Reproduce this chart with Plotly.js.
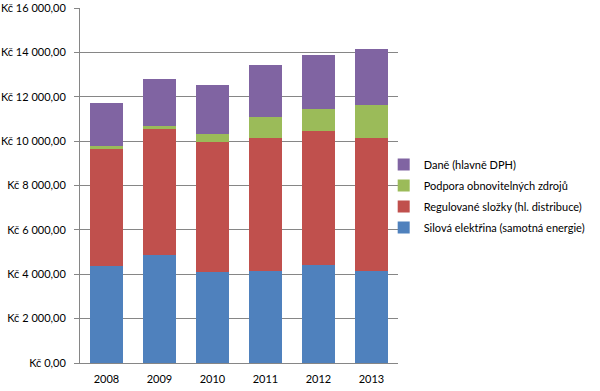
<!DOCTYPE html>
<html>
<head>
<meta charset="utf-8">
<script src="https://cdn.plot.ly/plotly-3.0.1.min.js"></script>
<style>html,body{margin:0;padding:0;background:#fff;}#chart{width:600px;height:391px;}</style>
</head>
<body>
<div id="chart"></div>
<script>
const years = ["2008", "2009", "2010", "2011", "2012", "2013"];
const silova = [4360, 4890, 4110, 4140, 4420, 4150];
const regulovane = [5300, 5660, 5840, 6020, 6020, 6010];
const podpora = [100, 120, 390, 910, 1020, 1470];
const dane = [1960, 2130, 2190, 2340, 2420, 2520];
const seriesNames = [
  "Silová elektřina (samotná energie)",
  "Regulované složky (hl. distribuce)",
  "Podpora obnovitelných zdrojů",
  "Daně (hlavně DPH)"
];
const seriesColors = ["#4F81BD", "#C0504D", "#9BBB59", "#8064A2"];
const yTickVals = [0, 2000, 4000, 6000, 8000, 10000, 12000, 14000, 16000];
const yTickText = ["Kč 0,00", "Kč 2 000,00", "Kč 4 000,00", "Kč 6 000,00", "Kč 8 000,00",
                   "Kč 10 000,00", "Kč 12 000,00", "Kč 14 000,00", "Kč 16 000,00"];

const seriesValues = [silova, regulovane, podpora, dane];
const traces = seriesValues.map((vals, i) => ({
  type: "bar",
  x: years,
  y: vals,
  name: seriesNames[i],
  legendgroup: "g" + i,
  legendrank: 10 * (seriesValues.length - i),
  marker: {color: seriesColors[i], line: {width: 0}},
  hoverinfo: "none"
}));

const layout = {
  width: 600,
  height: 391,
  margin: {l: 80, r: 202, t: 8, b: 28},
  barmode: "stack",
  bargap: 0.36,
  paper_bgcolor: "#ffffff",
  plot_bgcolor: "#ffffff",
  font: {family: "Lato, 'Noto Sans', sans-serif", size: 11, color: "#000000"},
  showlegend: true,
  legend: {
    x: 0.955, xanchor: "left",
    y: 0.6, yanchor: "top",
    traceorder: "grouped",
    tracegroupgap: 2,
    itemwidth: 30,
    font: {size: 11},
    bgcolor: "rgba(0,0,0,0)"
  },
  xaxis: {
    type: "category",
    showline: true,
    linecolor: "#868686",
    linewidth: 1,
    ticks: "",
    showgrid: false,
    ticklabelstandoff: 6,
    tickfont: {size: 11}
  },
  yaxis: {
    range: [0, 16000],
    tickvals: yTickVals,
    ticktext: yTickText,
    showline: true,
    linecolor: "#868686",
    linewidth: 1,
    ticks: "outside",
    ticklen: 5,
    tickcolor: "#868686",
    ticklabelstandoff: 6,
    showgrid: true,
    gridcolor: "#868686",
    gridwidth: 1,
    zeroline: false,
    tickfont: {size: 11}
  }
};

Plotly.newPlot("chart", traces, layout, {staticPlot: true, displayModeBar: false});
</script>
</body>
</html>
